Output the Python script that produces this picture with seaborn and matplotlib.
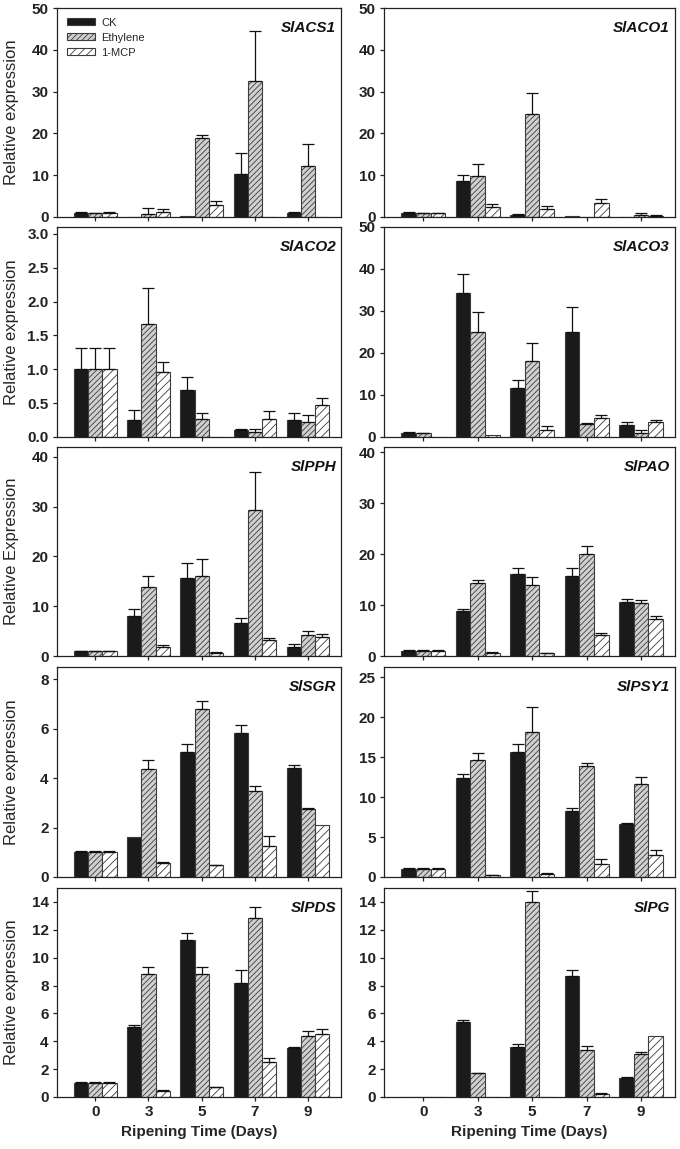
import numpy as np
import pandas as pd
import matplotlib
matplotlib.use("Agg")
import matplotlib.pyplot as plt
import seaborn as sns
from matplotlib.patches import Patch
from matplotlib.container import BarContainer
from matplotlib.ticker import FormatStrFormatter

# ---------------- data ----------------
days = ["0", "3", "5", "7", "9"]
treatments = ["CK", "Ethylene", "1-MCP"]
genes = ["SlACS1", "SlACO1", "SlACO2", "SlACO3", "SlPPH",
         "SlPAO", "SlSGR", "SlPSY1", "SlPDS", "SlPG"]
ylabels = ["Relative expression", None, "Relative expression", None,
           "Relative Expression", None, "Relative expression", None,
           "Relative expression", None]
ymax = [50, 50, 3.1, 50, 42, 41, 8.5, 26.3, 15, 15]
yticks = [[0, 10, 20, 30, 40, 50], [0, 10, 20, 30, 40, 50],
          [0.0, 0.5, 1.0, 1.5, 2.0, 2.5, 3.0], [0, 10, 20, 30, 40, 50],
          [0, 10, 20, 30, 40], [0, 10, 20, 30, 40], [0, 2, 4, 6, 8],
          [0, 5, 10, 15, 20, 25], [0, 2, 4, 6, 8, 10, 12, 14],
          [0, 2, 4, 6, 8, 10, 12, 14]]

# rows: CK, Ethylene, 1-MCP ; columns: days 0,3,5,7,9
acs1_mean = [[1.0, 0.1, 0.2, 10.4, 1.0], [0.9, 0.8, 18.8, 32.5, 12.2], [1.0, 1.2, 2.8, 0.1, 0.0]]
acs1_err = [[0.1, 0.0, 0.0, 4.8, 0.2], [0.1, 1.4, 0.8, 12.1, 5.2], [0.1, 0.6, 1.0, 0.0, 0.0]]

aco1_mean = [[1.0, 8.5, 0.5, 0.2, 0.0], [0.9, 9.9, 24.7, 0.0, 0.5], [0.9, 2.5, 1.9, 3.3, 0.2]]
aco1_err = [[0.1, 1.6, 0.1, 0.0, 0.0], [0.1, 2.8, 4.9, 0.0, 0.5], [0.1, 0.5, 0.8, 1.1, 0.3]]

aco2_mean = [[1.0, 0.25, 0.70, 0.10, 0.25], [1.0, 1.67, 0.27, 0.08, 0.22], [1.0, 0.96, 0.0, 0.27, 0.47]]
aco2_err = [[0.32, 0.15, 0.18, 0.02, 0.10], [0.32, 0.53, 0.08, 0.04, 0.10], [0.32, 0.14, 0.0, 0.11, 0.10]]

aco3_mean = [[1.0, 34.4, 11.6, 24.9, 2.9], [0.9, 25.0, 18.1, 3.1, 1.0], [0.0, 0.4, 1.7, 4.6, 3.5]]
aco3_err = [[0.1, 4.5, 2.0, 6.1, 0.6], [0.1, 4.8, 4.3, 0.2, 0.6], [0.0, 0.0, 1.0, 0.6, 0.6]]

pph_mean = [[1.0, 8.0, 15.6, 6.7, 1.8], [1.0, 13.9, 16.0, 29.3, 4.2], [1.0, 1.9, 0.6, 3.3, 3.9]]
pph_err = [[0.05, 1.5, 3.0, 0.9, 0.7], [0.05, 2.2, 3.5, 7.7, 0.9], [0.05, 0.4, 0.2, 0.3, 0.5]]

pao_mean = [[1.0, 8.8, 16.1, 15.6, 10.6], [1.0, 14.4, 14.0, 20.0, 10.3], [1.0, 0.6, 0.5, 4.1, 7.2]]
pao_err = [[0.1, 0.5, 1.2, 1.7, 0.6], [0.1, 0.5, 1.5, 1.6, 0.6], [0.1, 0.1, 0.1, 0.5, 0.6]]

sgr_mean = [[1.0, 1.63, 5.05, 5.82, 4.43], [1.0, 4.38, 6.82, 3.47, 2.74], [1.0, 0.57, 0.47, 1.27, 2.12]]
sgr_err = [[0.06, 0.0, 0.33, 0.33, 0.12], [0.06, 0.37, 0.30, 0.23, 0.06], [0.06, 0.03, 0.03, 0.40, 0.0]]

psy1_mean = [[1.05, 12.4, 15.7, 8.3, 6.6], [1.0, 14.6, 18.1, 13.9, 11.6], [1.0, 0.2, 0.4, 1.6, 2.8]]
psy1_err = [[0.1, 0.5, 0.9, 0.3, 0.2], [0.1, 0.9, 3.2, 0.4, 0.9], [0.1, 0.1, 0.1, 0.7, 0.6]]

pds_mean = [[1.0, 5.0, 11.3, 8.15, 3.5], [1.0, 8.85, 8.85, 12.85, 4.4], [1.0, 0.45, 0.7, 2.5, 4.5]]
pds_err = [[0.1, 0.2, 0.5, 1.0, 0.1], [0.1, 0.5, 0.45, 0.8, 0.35], [0.1, 0.05, 0.05, 0.3, 0.35]]

pg_mean = [[0.03, 5.4, 3.6, 8.65, 1.39], [0.03, 1.7, 14.0, 3.35, 3.06], [0.03, 0.0, 0.02, 0.25, 4.35]]
pg_err = [[0.0, 0.15, 0.2, 0.48, 0.05], [0.0, 0.05, 0.8, 0.3, 0.15], [0.0, 0.0, 0.0, 0.03, 0.0]]

means = [acs1_mean, aco1_mean, aco2_mean, aco3_mean, pph_mean,
         pao_mean, sgr_mean, psy1_mean, pds_mean, pg_mean]
errs = [acs1_err, aco1_err, aco2_err, aco3_err, pph_err,
        pao_err, sgr_err, psy1_err, pds_err, pg_err]

# ---------------- style ----------------
sns.set_style("ticks")
plt.rcParams["font.family"] = ["Liberation Sans", "DejaVu Sans"]
plt.rcParams["hatch.linewidth"] = 0.6
plt.rcParams["axes.linewidth"] = 0.9

face = ["#1a1a1a", "#d0d0d0", "#ffffff"]
hatches = ["", "//////", "////"]
edge = "#3c3c3c"

fig = plt.figure(figsize=(6.8, 11.49), dpi=100)

W, H = 680.0, 1149.0
col_x = [(57, 341), (384, 675)]
row_y = [(8, 217), (227, 437), (447, 656), (667, 877), (888, 1097)]

for k, gene in enumerate(genes):
    r, c = divmod(k, 2)
    x0, x1 = col_x[c]
    yt, yb = row_y[r]
    ax = fig.add_axes([x0 / W, 1 - yb / H, (x1 - x0) / W, (yb - yt) / H])

    rows = []
    for ti, t in enumerate(treatments):
        for di, d in enumerate(days):
            rows.append({"day": d, "treatment": t, "value": means[k][ti][di]})
    df = pd.DataFrame(rows)

    sns.barplot(data=df, x="day", y="value", hue="treatment",
                order=days, hue_order=treatments, palette=face,
                errorbar=None, width=0.8, legend=False, ax=ax,
                edgecolor=edge, linewidth=0.8, saturation=1)

    bar_conts = [cn for cn in ax.containers if isinstance(cn, BarContainer)]
    for ti, cont in enumerate(bar_conts):
        for di, bar in enumerate(cont.patches):
            bar.set_hatch(hatches[ti])
            bar.set_edgecolor(edge)
            e = errs[k][ti][di]
            if e > 0:
                xc = bar.get_x() + bar.get_width() / 2
                yv = bar.get_height()
                ax.errorbar([xc], [yv], yerr=[[0], [e]], fmt="none",
                            ecolor="#111111", elinewidth=0.9,
                            capsize=4.5, capthick=0.9, zorder=3)

    ax.set_xlim(-0.72, 4.62)
    ax.set_ylim(0, ymax[k])
    ax.set_yticks(yticks[k])
    if k == 2:
        ax.yaxis.set_major_formatter(FormatStrFormatter("%.1f"))
    for sp in ax.spines.values():
        sp.set_visible(True)
        sp.set_color("#222222")
        sp.set_linewidth(0.9)
    ax.tick_params(axis="both", direction="out", length=3, width=0.9,
                   pad=3, labelsize=11, colors="#222222")
    ax.tick_params(axis="x", top=False)
    ax.tick_params(axis="y", right=False)
    for lab in ax.get_yticklabels():
        lab.set_fontweight("bold")
    if r == 4:
        for lab in ax.get_xticklabels():
            lab.set_fontweight("bold")
        ax.set_xlabel("Ripening Time (Days)", fontsize=11,
                      fontweight="bold", labelpad=4)
    else:
        ax.set_xticklabels([])
        ax.set_xlabel("")
    if ylabels[k]:
        ax.set_ylabel(ylabels[k], fontsize=12)
        ax.yaxis.set_label_coords(-0.135, 0.5)
    else:
        ax.set_ylabel("")

    ax.text(0.983, 0.905, gene, transform=ax.transAxes, ha="right",
            va="center", fontsize=11, fontweight="bold", style="italic",
            color="#111111")

    if k == 0:
        handles = [Patch(facecolor=face[i], edgecolor=edge, hatch=hatches[i],
                         linewidth=0.8, label=treatments[i]) for i in range(3)]
        ax.legend(handles=handles, loc="upper left",
                  bbox_to_anchor=(0.02, 0.975), frameon=False,
                  fontsize=8, handlelength=2.5, handleheight=0.55,
                  handletextpad=0.55, labelspacing=0.45, borderpad=0.4,
                  borderaxespad=0)

fig.savefig("out.png", dpi=100)
